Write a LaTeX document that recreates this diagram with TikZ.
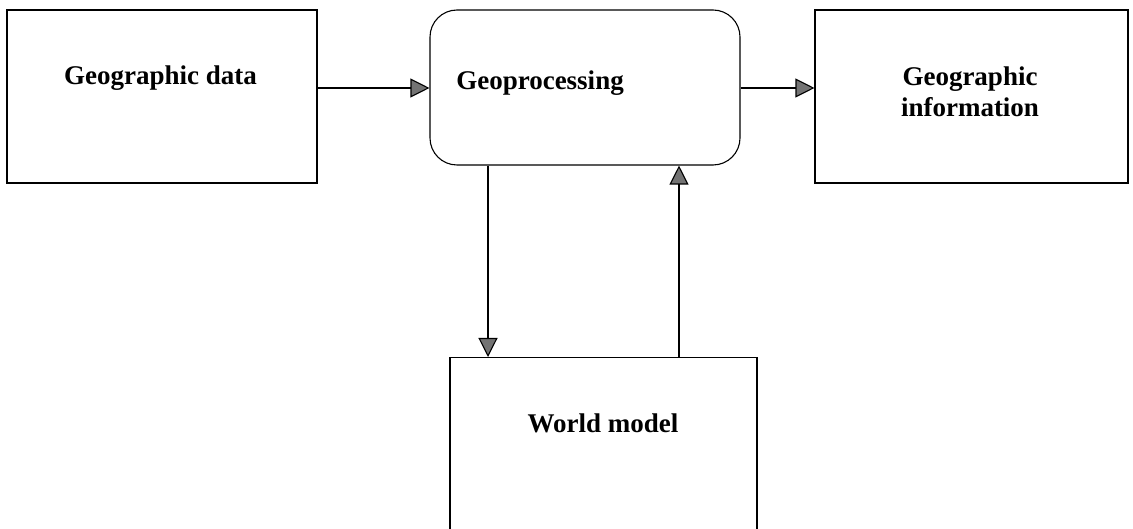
\documentclass[tikz,border=0pt]{standalone}
\usepackage{fontspec}
\setmainfont{Liberation Serif}
\usetikzlibrary{arrows.meta}
\begin{document}
\begin{tikzpicture}[x=1pt,y=-1pt,
  box/.style={draw=black, line width=1.1pt, inner sep=0pt},
  lbl/.style={font=\fontsize{27}{31}\selectfont\bfseries, align=center, inner sep=0pt},
  conn/.style={line width=1.1pt, -{Triangle[length=19pt,width=19pt,fill=black!55]}}]
\clip (0,0) rectangle (1133,529);
\useasboundingbox (0,0) rectangle (1133,529);
\fill[white] (0,0) rectangle (1133,529);
% boxes
\node[box, minimum width=310pt, minimum height=173pt] (data) at (162,96.5) {};
\node[box, rounded corners=27pt, minimum width=310pt, minimum height=155pt] (proc) at (585,87.5) {};
\node[box, minimum width=313pt, minimum height=173pt] (info) at (971.5,96.5) {};
\node[box, minimum width=307pt, minimum height=200pt, anchor=north] (world) at (603.5,357) {};
% texts
\node[lbl] (datatxt) at (160.5,78) {Geographic data};
\node[lbl] (proctxt) at (540,83) {Geoprocessing};
\node[lbl] (infotxt) at (970,92) {Geographic\\information};
\node[lbl] (worldtxt) at (603,423) {World model};
% connectors
\draw[conn] (data.east |- 0,88) -- (proc.west |- 0,88);
\draw[conn] (proc.east |- 0,88) -- (info.west |- 0,88);
\draw[conn] (proc.south -| 488,0) -- (world.north -| 488,0);
\draw[conn] (world.north -| 679,0) -- (proc.south -| 679,0);
\end{tikzpicture}
\end{document}
